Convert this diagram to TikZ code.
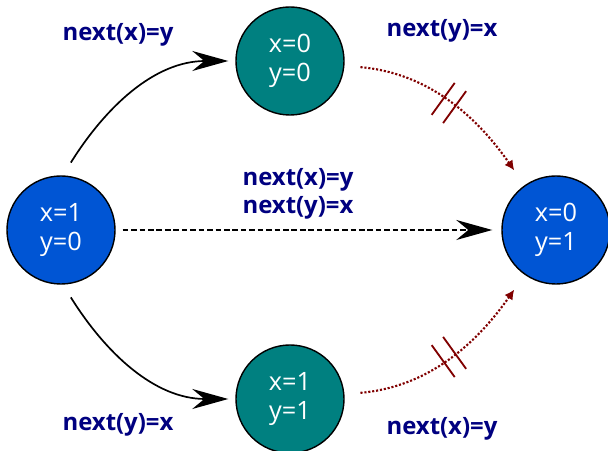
\documentclass[tikz,border=0pt]{standalone}
\usepackage{fontspec}
\setmainfont{Open Sans}
\usetikzlibrary{arrows.meta,decorations.markings}
\definecolor{stateblue}{HTML}{0055D4}
\definecolor{stateteal}{HTML}{008080}
\definecolor{labelnavy}{HTML}{000080}
\definecolor{failred}{HTML}{800000}

\begin{document}
\begin{tikzpicture}[x=0.025cm,y=-0.025cm,
  state/.style={circle, draw, line width=1pt, minimum size=2.7cm, text=white, align=center, font=\fontsize{18}{21}\selectfont},
  lbl/.style={text=labelnavy, align=center, font=\fontsize{17}{20}\selectfont\bfseries},
  trans/.style={line width=1.2pt, -{Stealth[length=0.9cm,width=0.5cm,inset=0.3cm]}},
  slash/.style={solid, arrows=-, line width=1.3pt, shorten <=0pt, shorten >=0pt},
  fail/.style={failred, line width=1.5pt, dash pattern=on 1.5pt off 1.3pt, -{Latex[length=7pt,width=7pt]},
    postaction={decorate}, decoration={markings, mark=at position 0.5 with {
      \draw[slash] (-5pt,-14pt) -- (-5pt,14pt);
      \draw[slash] (5pt,-14pt) -- (5pt,14pt);}}}]
\useasboundingbox (0,0) rectangle (608,451);
\node[state, fill=stateblue] (l) at (61,230) {x=1\\y=0};
\node[state, fill=stateteal] (t) at (290,61) {x=0\\y=0};
\node[state, fill=stateteal] (b) at (290,399) {x=1\\y=1};
\node[state, fill=stateblue] (r) at (556,230) {x=0\\y=1};
\node[lbl] (lt) at (118,35) {next(x)=y};
\node[lbl] (tr) at (442,31) {next(y)=x};
\node[lbl] (mid) at (298,194) {next(x)=y\\next(y)=x};
\node[lbl] (lb) at (118,425) {next(y)=x};
\node[lbl] (br) at (442,429) {next(x)=y};
\draw[trans, shorten <=0.375cm, shorten >=0.175cm] (l.88) to[out=58,in=180] (t);
\draw[trans, shorten <=0.375cm, shorten >=0.175cm] (l.-88) to[out=-58,in=180] (b);
\draw[trans, dash pattern=on 4pt off 2pt, shorten <=0.175cm, shorten >=0.225cm] (l) -- (r);
\draw[fail, shorten <=0.4cm, shorten >=0.45cm] (t) to[out=-5,in=125] (r);
\draw[fail, shorten <=0.4cm, shorten >=0.45cm] (b) to[out=5,in=-125] (r);
\end{tikzpicture}
\end{document}
